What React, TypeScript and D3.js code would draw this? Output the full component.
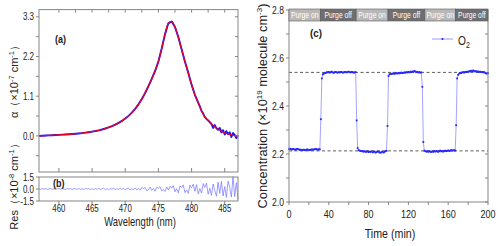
import React from "react";
import * as d3 from "d3";

// ---------- Panel (a): absorption spectrum ----------
const fitWavelength = d3.range(0, 61).map((i) => 457 + i * 0.5);
const fitAbs = [
  0.0, 0.005, 0.01, 0.015, 0.02, 0.025, 0.03, 0.035, 0.04, 0.045,
  0.052, 0.06, 0.068, 0.078, 0.09, 0.103, 0.118, 0.135, 0.155, 0.178,
  0.205, 0.235, 0.27, 0.312, 0.36, 0.415, 0.48, 0.555, 0.645, 0.75,
  0.875, 1.02, 1.19, 1.38, 1.58, 1.8, 2.06, 2.42, 2.82, 3.12,
  3.17, 3.02, 2.74, 2.4, 2.06, 1.75, 1.42, 1.14, 0.92, 0.7,
  0.53, 0.42, 0.33, 0.26, 0.19, 0.13, 0.085, 0.055, 0.03, 0.01,
  0.0,
];
// measured spectrum tail (noisy part), 0.25 nm steps from 481.25 nm
const measuredTailWl = [
  481.25, 481.5, 481.75, 482.0, 482.25, 482.5, 482.75, 483.0, 483.25, 483.5, 483.75, 484.0,
  484.25, 484.5, 484.75, 485.0, 485.25, 485.5, 485.75, 486.0, 486.25, 486.5, 486.75, 487.0,
];
const measuredTailAbs = [
  0.82, 0.69, 0.62, 0.52, 0.47, 0.43, 0.38, 0.33, 0.22, 0.3, 0.21, 0.17,
  0.22, 0.1, 0.16, 0.04, 0.13, 0.05, 0.1, -0.03, 0.08, 0.03, -0.06, 0.02,
];

// ---------- Panel (b): residual (x1e-8), 0.25 nm steps from 457 ----------
const residual = [
  0.02, -0.03, 0.05, -0.02, 0.04, -0.05, 0.01, 0.06, -0.04, 0.03, -0.06, 0.02, 0.05, -0.03, 0.04, -0.02,
  -0.05, 0.06, -0.01, 0.03, -0.06, 0.04, 0.02, -0.05, 0.07, -0.03, 0.01, -0.06, 0.05, -0.02, 0.04, -0.07, 0.03,
  -0.08, 0.06, -0.04, 0.09, -0.07, 0.03, 0.1, -0.09, 0.05, -0.11, 0.08, -0.03, 0.12, -0.1, 0.06, -0.08,
  0.13, -0.05, 0.09, -0.12, 0.07, 0.11, -0.13, 0.04, -0.09, 0.14, -0.11, 0.08,
  -0.15, 0.2, 0.05, 0.18, -0.22, -0.08, 0.25, -0.18, 0.08, -0.28, 0.22, 0.1, 0.3, -0.25, -0.05, -0.32,
  0.26, -0.12, 0.35, 0.1,
  0.42, -0.35, 0.05, -0.48, 0.38, 0.2, 0.52, -0.45, -0.1, -0.55, 0.48, 0.15, 0.6, -0.28, 0.55, -0.62,
  0.05, -0.5, 0.68, 0.2,
  0.72, -0.65, 0.1, -0.8, 0.62, -0.2, -0.9, 0.85, -0.55, 0.95, -0.88, 0.3, -1.05, 0.98, 0.2, -1.0,
  1.55, -0.95, 0.8, -1.3,
];
const residualWl = residual.map((_, i) => 457 + i * 0.25);

// ---------- Panel (c): O2 concentration, 1 min sampling ----------
const o2Values = [
  // t 0-31
  2.221, 2.222, 2.22, 2.219, 2.221, 2.22, 2.218, 2.219, 2.221, 2.22, 2.219, 2.217, 2.218, 2.216, 2.217, 2.218,
  2.216, 2.217, 2.219, 2.218, 2.217, 2.216, 2.218, 2.219, 2.218, 2.219, 2.22, 2.221, 2.219, 2.218, 2.22, 2.219,
  // t 32-33
  2.345, 2.515,
  // t 34-67
  2.532, 2.535, 2.537, 2.538, 2.541, 2.54, 2.542, 2.539, 2.541, 2.543, 2.54, 2.538, 2.541, 2.542, 2.54, 2.539,
  2.541, 2.54, 2.542, 2.541, 2.539, 2.54, 2.542, 2.541, 2.54, 2.542, 2.543, 2.541, 2.54, 2.542, 2.541, 2.539,
  2.54, 2.541,
  // t 68-69
  2.34, 2.225,
  // t 70-98
  2.216, 2.214, 2.212, 2.213, 2.211, 2.21, 2.212, 2.209, 2.21, 2.211, 2.208, 2.21, 2.209, 2.211, 2.207, 2.209,
  2.21, 2.206, 2.208, 2.211, 2.209, 2.207, 2.205, 2.208, 2.21, 2.206, 2.209, 2.212, 2.213,
  // t 99-100
  2.317, 2.525,
  // t 101-133
  2.532, 2.534, 2.533, 2.535, 2.536, 2.534, 2.536, 2.537, 2.535, 2.538, 2.536, 2.537, 2.539, 2.537, 2.538, 2.54,
  2.539, 2.541, 2.54, 2.542, 2.54, 2.543, 2.541, 2.544, 2.542, 2.546, 2.544, 2.541, 2.542, 2.54, 2.541, 2.539,
  2.54,
  // t 134-135
  2.48, 2.25,
  // t 136-167
  2.214, 2.212, 2.21, 2.211, 2.209, 2.212, 2.21, 2.208, 2.211, 2.209, 2.212, 2.21, 2.213, 2.211, 2.209, 2.212,
  2.214, 2.211, 2.213, 2.21, 2.212, 2.214, 2.212, 2.213, 2.215, 2.213, 2.214, 2.216, 2.214, 2.215, 2.216, 2.214,
  // t 168-169
  2.32, 2.515,
  // t 170-200
  2.53, 2.535, 2.538, 2.537, 2.54, 2.541, 2.539, 2.542, 2.541, 2.543, 2.542, 2.545, 2.544, 2.547, 2.545, 2.548,
  2.546, 2.544, 2.545, 2.543, 2.544, 2.542, 2.543, 2.541, 2.542, 2.54, 2.541, 2.539, 2.536, 2.535, 2.537,
];
const o2Time = o2Values.map((_, i) => i);
const refLevels = [2.54, 2.213];
const purgeEdges = [0, 31.5, 67.5, 99.5, 136.5, 167.5, 200];
const purgeLabels = ["Purge on", "Purge off", "Purge on", "Purge off", "Purge on", "Purge off"];

// tick labels
const wlTicks = [460, 465, 470, 475, 480, 485];
const absTicks = [0, 1.1, 2.2, 3.3];
const resTicks = [-1.5, 0, 1.5];
const timeTicks = [0, 40, 80, 120, 160, 200];
const concTicks = [2.0, 2.2, 2.4, 2.6, 2.8];

const FONT = "'Liberation Sans', Arial, sans-serif";
const FRAME = "#858585";
const TXT = "#222";

type TP = {
  x: number; y: number; anchor?: string; size?: number; sx?: number; weight?: string | number;
  fill?: string; children?: React.ReactNode;
};
const Txt = ({ x, y, anchor = "middle", size = 10, sx = 0.78, weight, fill = TXT, children }: TP) => (
  <text
    transform={`translate(${x},${y}) scale(${sx},1)`}
    textAnchor={anchor as any}
    fontSize={size}
    fontWeight={weight as any}
    fill={fill}
    fontFamily={FONT}
  >
    {children}
  </text>
);

export default function App() {
  // scales
  const xW = d3.scaleLinear().domain([457, 487]).range([39, 238]);
  const yA = d3.scaleLinear().domain([-1, 3.5]).range([172, 9.6]);
  const yB = d3.scaleLinear().domain([-1.5, 1.5]).range([201, 177]);
  const xT = d3.scaleLinear().domain([0, 200]).range([289, 488]);
  const yC = d3.scaleLinear().domain([2.0, 2.8]).range([202, 10]);

  const fitPts: [number, number][] = fitWavelength.map((w, i) => [w, fitAbs[i]]);
  const measuredPts: [number, number][] = [
    ...fitPts.filter((p) => p[0] <= 481),
    ...measuredTailWl.map((w, i) => [w, measuredTailAbs[i]] as [number, number]),
  ];
  const fitLine = d3.line<[number, number]>().x((d) => xW(d[0])).y((d) => yA(d[1])).curve(d3.curveCatmullRom);
  const measLine = d3.line<[number, number]>().x((d) => xW(d[0])).y((d) => yA(d[1]));
  const resLine = d3.line<number>().x((_, i) => xW(residualWl[i])).y((d) => yB(d));
  const o2Line = d3.line<number>().x((_, i) => xT(o2Time[i])).y((d) => yC(d));

  const absMinor = d3.range(-0.55, 3.4, 0.55);
  const wlTop = d3.range(460, 487, 2.5);
  const concMinor = d3.range(2.0, 2.801, 0.1);
  const timeMinor = d3.range(0, 201, 20);

  return (
    <svg width={500} height={246} style={{ position: "absolute", left: 0, top: 0, background: "#fff" }}>
      {/* ===== Panel (a) ===== */}
      <g>
        <path d={measLine(measuredPts) || ""} fill="none" stroke="#1515ff" strokeWidth={1.9} strokeLinejoin="round" />
        <path d={fitLine(fitPts) || ""} fill="none" stroke="#f0001a" strokeWidth={1.2} />
        <rect x={39} y={yA(3.5)} width={199} height={yA(-1) - yA(3.5)} fill="none" stroke={FRAME} strokeWidth={1} />
        {absMinor.map((v) => (
          <g key={"am" + v}>
            <line x1={36} x2={39} y1={yA(v)} y2={yA(v)} stroke={FRAME} />
            <line x1={238} x2={235} y1={yA(v)} y2={yA(v)} stroke={FRAME} />
          </g>
        ))}
        {wlTop.map((v) => (
          <line key={"wt" + v} x1={xW(v)} x2={xW(v)} y1={yA(3.5)} y2={yA(3.5) + 3} stroke={FRAME} />
        ))}
        {wlTicks.map((v) => (
          <line key={"wb" + v} x1={xW(v)} x2={xW(v)} y1={172} y2={168} stroke={FRAME} />
        ))}
        {absTicks.map((v) => (
          <Txt key={"al" + v} x={34} y={yA(v) + 3.6} anchor="end" size={10} sx={0.8}>
            {v.toFixed(1)}
          </Txt>
        ))}
        <Txt x={55} y={43} anchor="start" size={10} sx={0.9} weight="bold">(a)</Txt>
        <text transform="translate(18,79) rotate(-90)" textAnchor="middle" fontSize={11} fill={TXT} fontFamily={FONT}>
          α（×10<tspan dy={-4} fontSize={7.5}>-7</tspan>
          <tspan dy={4}> cm</tspan>
          <tspan dy={-4} fontSize={7.5}>-1</tspan>
          <tspan dy={4}>）</tspan>
        </text>
      </g>

      {/* ===== Panel (b) ===== */}
      <g>
        <path d={resLine(residual) || ""} fill="none" stroke="#7272ff" strokeWidth={0.7} />
        <rect x={39} y={177} width={199} height={24} fill="none" stroke={FRAME} strokeWidth={1} />
        {resTicks.map((v) => (
          <g key={"rt" + v}>
            <line x1={36} x2={39} y1={yB(v)} y2={yB(v)} stroke={FRAME} />
            <Txt x={34} y={yB(v) + 3.6} anchor="end" size={10} sx={0.8}>
              {v.toFixed(1)}
            </Txt>
          </g>
        ))}
        {wlTicks.map((v) => (
          <g key={"bx" + v}>
            <line x1={xW(v)} x2={xW(v)} y1={201} y2={204} stroke={FRAME} />
            <Txt x={xW(v)} y={212} size={10.5} sx={0.75}>
              {v}
            </Txt>
          </g>
        ))}
        <Txt x={140} y={226} size={12} sx={0.79}>Wavelength (nm)</Txt>
        <Txt x={53} y={187} anchor="start" size={10} sx={0.9} weight="bold">(b)</Txt>
        <text transform="translate(18,184) rotate(-90)" textAnchor="middle" fontSize={11} fill={TXT} fontFamily={FONT}>
          Res（×10<tspan dy={-4} fontSize={7.5}>-8</tspan>
          <tspan dy={4}> cm</tspan>
          <tspan dy={-4} fontSize={7.5}>-1</tspan>
          <tspan dy={4}>）</tspan>
        </text>
      </g>

      {/* ===== Panel (c) ===== */}
      <g>
        {refLevels.map((v) => (
          <line key={"ref" + v} x1={289} x2={488} y1={yC(v)} y2={yC(v)} stroke="#333" strokeWidth={0.8} strokeDasharray="3,2.5" />
        ))}
        <path d={o2Line(o2Values) || ""} fill="none" stroke="#8c8cff" strokeWidth={0.8} />
        {o2Values.map((v, i) => (
          <rect key={"p" + i} x={xT(o2Time[i]) - 0.9} y={yC(v) - 0.9} width={1.8} height={1.8} fill="#2626ff" />
        ))}
        <rect x={289} y={10} width={199} height={192} fill="none" stroke={FRAME} strokeWidth={1} />
        {concMinor.map((v) => (
          <g key={"cm" + v}>
            <line x1={286} x2={289} y1={yC(v)} y2={yC(v)} stroke={FRAME} />
            <line x1={488} x2={485} y1={yC(v)} y2={yC(v)} stroke={FRAME} />
          </g>
        ))}
        {concTicks.map((v) => (
          <Txt key={"cl" + v} x={284} y={yC(v) + 3.8} anchor="end" size={11} sx={0.78}>
            {v.toFixed(1)}
          </Txt>
        ))}
        {timeMinor.map((v) => (
          <line key={"tm" + v} x1={xT(v)} x2={xT(v)} y1={202} y2={205} stroke={FRAME} />
        ))}
        {timeTicks.map((v) => (
          <Txt key={"tl" + v} x={xT(v)} y={218} size={11} sx={0.82}>
            {v}
          </Txt>
        ))}
        <Txt x={390} y={238} size={13.5} sx={0.79}>Time (min)</Txt>
        {/* purge bar */}
        {purgeLabels.map((lab, i) => (
          <g key={"pg" + i}>
            <rect
              x={xT(purgeEdges[i])}
              y={9}
              width={xT(purgeEdges[i + 1]) - xT(purgeEdges[i])}
              height={12}
              fill={lab === "Purge on" ? "#b8b8b8" : "#6f6f6f"}
              stroke="#5a5a5a"
              strokeWidth={0.6}
            />
            <Txt x={(xT(purgeEdges[i]) + xT(purgeEdges[i + 1])) / 2} y={18.2} size={8.5} sx={0.8} fill="#fff">
              {lab}
            </Txt>
          </g>
        ))}
        <Txt x={310} y={37} anchor="start" size={11.5} sx={0.85} weight="bold">(c)</Txt>
        {/* legend */}
        <line x1={432} x2={453} y1={39} y2={39} stroke="#8c8cff" strokeWidth={0.9} />
        <rect x={441.6} y={38.1} width={1.8} height={1.8} fill="#2626ff" />
        <Txt x={458} y={45} anchor="start" size={13} sx={0.78}>
          O<tspan dy={3} fontSize={9}>2</tspan>
        </Txt>
        <text transform="translate(267,106) rotate(-90)" textAnchor="middle" fontSize={12.8} fill={TXT} fontFamily={FONT}>
          Concentration (×10<tspan dy={-5} fontSize={8}>19</tspan>
          <tspan dy={5}> molecule cm</tspan>
          <tspan dy={-5} fontSize={8}>-3</tspan>
          <tspan dy={5}>)</tspan>
        </text>
      </g>
    </svg>
  );
}
